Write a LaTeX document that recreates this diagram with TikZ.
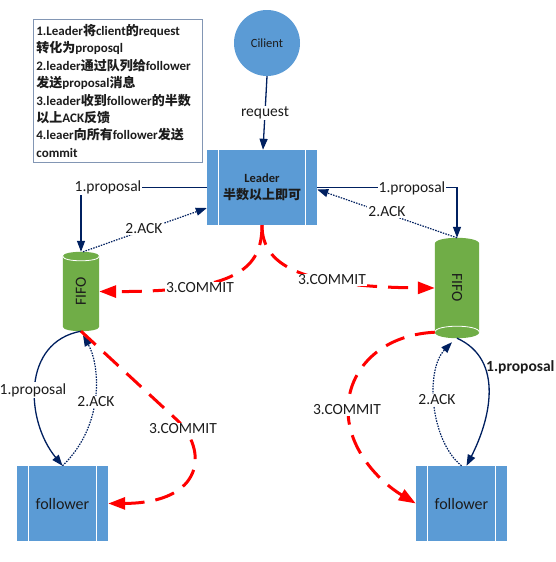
\documentclass[tikz,border=0pt]{standalone}
\usepackage{fontspec}
\usepackage{graphicx}
\setmainfont{Carlito}
\newfontfamily\cjk{Noto Sans CJK SC}
\usetikzlibrary{arrows.meta,calc,backgrounds}
\newcommand\zhs[1]{{\cjk #1}}
\definecolor{cnavy}{RGB}{0,32,96}
\definecolor{boxblue}{RGB}{91,155,213}
\definecolor{fifogreen}{RGB}{112,173,71}
\definecolor{notegray}{RGB}{130,150,180}
\definecolor{ink}{RGB}{28,28,28}
\begin{document}
\begin{tikzpicture}[x=1pt,y=-1pt,
  every node/.style={text=ink},
  panel/.style={rectangle, fill=boxblue, inner sep=0pt,
    path picture={
      \draw[white,line width=1pt] ([xshift=11pt]path picture bounding box.north west) -- ([xshift=11pt]path picture bounding box.south west);
      \draw[white,line width=1pt] ([xshift=-11.5pt]path picture bounding box.north east) -- ([xshift=-11.5pt]path picture bounding box.south east);}},
  fifobox/.style={rectangle, inner sep=0pt, font=\fontsize{15.5}{18}\selectfont},
  navyline/.style={draw=cnavy, line width=1.3pt},
  navyarrow/.style={navyline, -{Triangle[length=11pt,width=8pt]}},
  ackarrow/.style={draw=cnavy, line width=1.2pt, dash pattern=on 1.5pt off 1.2pt, -{Triangle[length=11pt,width=8pt]}},
  commit/.style={draw=red, line width=3pt, dash pattern=on 20pt off 11pt, -{Triangle[length=17pt,width=12pt]}},
  lbl/.style={fill=white, inner sep=1pt, font=\fontsize{15.5}{18}\selectfont},
]
\useasboundingbox (0,0) rectangle (555,562);

% nodes
\node[draw=notegray, line width=0.8pt, anchor=north west, inner xsep=3pt, inner ysep=2pt,
      text width=163pt, minimum height=143pt, align=left,
      font=\fontsize{13}{17.4}\selectfont\bfseries] (note) at (33,19)
  {1.Leader\zhs{将}client\zhs{的}request\\
   \zhs{转化为}proposql\\
   2.leader\zhs{通过队列给}follower\\
   \zhs{发送}proposal\zhs{消息}\\
   3.leader\zhs{收到}follower\zhs{的半数}\\
   \zhs{以上}ACK\zhs{反馈}\\
   4.leaer\zhs{向所有}follower\zhs{发送}\\
   commit};

\node[circle, fill=boxblue, minimum size=66pt, inner sep=0pt,
      font=\fontsize{12.5}{15}\selectfont] (client) at (267,43) {Cilient};

\node[panel, minimum width=110pt, minimum height=75pt, align=center,
      font=\bfseries\fontsize{13}{17.5}\selectfont] (leader) at (262,187.5)
  {{\fontsize{12.5}{17.5}\selectfont Leader}\\{\cjk 半数以上即可}};

\node[panel, minimum width=91pt, minimum height=75pt, font=\fontsize{16}{19}\selectfont] (follL) at (62.5,503.5) {follower};
\node[panel, minimum width=91pt, minimum height=75pt, font=\fontsize{16}{19}\selectfont] (follR) at (461.5,503.5) {follower};

\node[fifobox, minimum width=36pt, minimum height=79pt] (fl) at (81,291.5) {\rotatebox{90}{FIFO}};
\node[fifobox, minimum width=44pt, minimum height=100pt] (fr) at (457,288) {\rotatebox{-90}{FIFO}};

% cylinders behind the FIFO texts
\begin{scope}[on background layer]
\fill[white] (0,0) rectangle (555,562);
\fill[fifogreen] ([yshift=-4.5pt]fl.north west) -- ([yshift=4.5pt]fl.south west)
  .. controls ([yshift=-1.5pt]fl.south west) and ([yshift=-1.5pt]fl.south east) .. ([yshift=4.5pt]fl.south east)
  -- ([yshift=-4.5pt]fl.north east)
  .. controls ([yshift=1.5pt]fl.north east) and ([yshift=1.5pt]fl.north west) .. ([yshift=-4.5pt]fl.north west) -- cycle;
\draw[white, line width=0.8pt] ([yshift=-4.5pt]fl.north west)
  .. controls ([yshift=-10.5pt]fl.north west) and ([yshift=-10.5pt]fl.north east) .. ([yshift=-4.5pt]fl.north east);
\fill[fifogreen] ([yshift=-6pt]fr.north west) -- ([yshift=6pt]fr.south west)
  .. controls ([yshift=-2pt]fr.south west) and ([yshift=-2pt]fr.south east) .. ([yshift=6pt]fr.south east)
  -- ([yshift=-6pt]fr.north east)
  .. controls ([yshift=2pt]fr.north east) and ([yshift=2pt]fr.north west) .. ([yshift=-6pt]fr.north west) -- cycle;
\draw[white, line width=0.8pt] ([yshift=6pt]fr.south west)
  .. controls ([yshift=14pt]fr.south west) and ([yshift=14pt]fr.south east) .. ([yshift=6pt]fr.south east);
\end{scope}

% request
\draw[navyarrow] (client.south) -- ([xshift=1pt]leader.north);
\node[lbl] (req) at (265,113) {request};

% leader <-> left FIFO
\draw[navyarrow] (leader.west) -| (fl.north);
\node[lbl] (pL) at (108,187) {1.proposal};
\draw[ackarrow] ([xshift=2pt]fl.north) -- ([yshift=-20.5pt]leader.west);
\node[lbl] (aL) at (144,229) {2.ACK};

% leader <-> right FIFO
\draw[navyarrow] (leader.east) -| (fr.north);
\node[lbl] (pR) at (412,188) {1.proposal};
\draw[ackarrow] (fr.north) -- ([yshift=-2pt]leader.east);
\node[lbl] (aR) at (387,212) {2.ACK};

% commits from leader
\draw[commit] (leader.south) .. controls (262,268) and (238,292) .. (fl.east);
\node[lbl] (cL) at (200,288) {3.COMMIT};
\draw[commit] (leader.south) .. controls (262,265) and (300,287) .. (fr.west);
\node[lbl] (cR) at (332,280) {3.COMMIT};

% left FIFO <-> left follower
\draw[navyarrow] (fl.south) .. controls (22,342) and (25,420) .. (follL.north);
\node[lbl] (pLL) at (33,390) {1.proposal};
\draw[ackarrow] (follL.north) .. controls (105,425) and (100,365) .. ([xshift=2pt,yshift=-4pt]fl.south);
\node[lbl] (aLL) at (96,402) {2.ACK};
\draw[commit] (fl.south) -- (177,420) .. controls (208,450) and (205,503) .. (follL.east);
\node[lbl] (cLL) at (183,429) {3.COMMIT};

% right FIFO <-> right follower
\draw[navyarrow] (fr.south) .. controls (505,360) and (490,420) .. ([xshift=5pt]follR.north);
\node[anchor=west, inner sep=0pt, font=\fontsize{15.5}{18}\selectfont\bfseries] (pRR) at (486,367) {1.proposal};
\draw[ackarrow] (follR.north) .. controls (430,440) and (425,370) .. ([xshift=-5pt,yshift=-4pt]fr.south);
\node[lbl] (aRR) at (437,400) {2.ACK};
\draw[commit] ([yshift=6pt]fr.south west) .. controls (380,335) and (348,370) .. (348,410)
  .. controls (348,450) and (380,482) .. (follR.west);
\node[lbl] (cRR) at (347,410) {3.COMMIT};
\end{tikzpicture}
\end{document}
